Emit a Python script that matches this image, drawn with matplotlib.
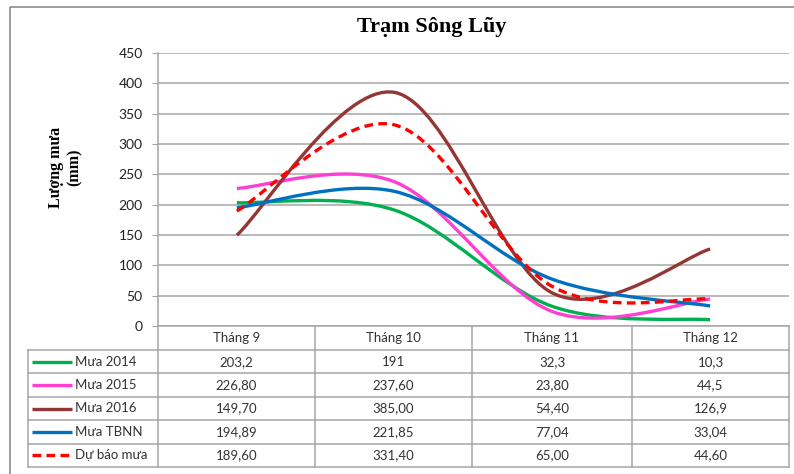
import numpy as np
import matplotlib
matplotlib.use('Agg')
import matplotlib.pyplot as plt
from matplotlib.path import Path
from matplotlib.patches import PathPatch, Rectangle

# ---------------- datos ----------------
thang = ['Tháng 9', 'Tháng 10', 'Tháng 11', 'Tháng 12']

mua_2014 = [203.2, 191, 32.3, 10.3]
mua_2015 = [226.80, 237.60, 23.80, 44.5]
mua_2016 = [149.70, 385.00, 54.40, 126.9]
mua_tbnn = [194.89, 221.85, 77.04, 33.04]
du_bao = [189.60, 331.40, 65.00, 44.60]

nhan_2014 = ['203,2', '191', '32,3', '10,3']
nhan_2015 = ['226,80', '237,60', '23,80', '44,5']
nhan_2016 = ['149,70', '385,00', '54,40', '126,9']
nhan_tbnn = ['194,89', '221,85', '77,04', '33,04']
nhan_du_bao = ['189,60', '331,40', '65,00', '44,60']

ten_chuoi = ['Mưa 2014', 'Mưa 2015', 'Mưa 2016', 'Mưa TBNN', 'Dự báo mưa']
y_ticks = [0, 50, 100, 150, 200, 250, 300, 350, 400, 450]

series = [mua_2014, mua_2015, mua_2016, mua_tbnn, du_bao]
nhans = [nhan_2014, nhan_2015, nhan_2016, nhan_tbnn, nhan_du_bao]
colores = ['#00B050', '#FF3FD2', '#943634', '#0070C0', '#FF0000']
estilos = ['-', '-', '-', '-', (0, (2.6, 1.6))]

sans = ['Lato', 'DejaVu Sans']
serif = ['Liberation Serif', 'DejaVu Serif']
gris = '#A6A6A6'

W, H = 794, 474
fig = plt.figure(figsize=(W / 100, H / 100), dpi=100)

# area del grafico en pixeles
x0, x1 = 158, 789
y_top, y_bot = 53, 326


def fx(px):
    return px / W


def fy(py):
    return 1 - py / H


ax = fig.add_axes([fx(x0), fy(y_bot), fx(x1) - fx(x0), fy(y_top) - fy(y_bot)])


# curva suavizada estilo Excel (Bezier tipo Catmull-Rom)
def curva(xs, ys):
    pts = np.column_stack([xs, ys]).astype(float)
    n = len(pts)
    verts = [pts[0]]
    codes = [Path.MOVETO]
    for i in range(n - 1):
        p_prev = pts[i - 1] if i > 0 else pts[i]
        p_next2 = pts[i + 2] if i + 2 < n else pts[i + 1]
        c1 = pts[i] + (pts[i + 1] - p_prev) / 6
        c2 = pts[i + 1] - (p_next2 - pts[i]) / 6
        verts += [c1, c2, pts[i + 1]]
        codes += [Path.CURVE4] * 3
    return Path(verts, codes)


x = np.arange(len(thang))
for ys, col, ls in zip(series, colores, estilos):
    patch = PathPatch(curva(x, ys), fill=False, edgecolor=col, lw=2.4,
                      linestyle=ls, capstyle='butt', zorder=3)
    ax.add_patch(patch)

ax.set_xlim(-0.5, len(thang) - 0.5)
ax.set_ylim(0, 450)
ax.set_yticks(y_ticks)
ax.set_yticklabels([str(v) for v in y_ticks], fontsize=10, family=sans, color='#222222')
ax.set_xticks([])
ax.tick_params(axis='y', length=4, color=gris, pad=7)
ax.grid(axis='y', color=gris, lw=1.1)
ax.set_axisbelow(True)
for s in ['top', 'right']:
    ax.spines[s].set_visible(False)
ax.spines['left'].set_color(gris)
ax.spines['bottom'].set_color(gris)
ax.spines['left'].set_linewidth(1.1)
ax.spines['bottom'].set_linewidth(1.1)

# capa en pixeles para la tabla y los textos
ov = fig.add_axes([0, 0, 1, 1], zorder=-1)
ov.set_xlim(0, W)
ov.set_ylim(H, 0)
ov.axis('off')

# marco exterior
ov.add_patch(Rectangle((10, 7), W, H, fill=False, edgecolor='#8C8C8C', lw=1.2))

# titulo y etiqueta del eje y
ov.text(432, 27, 'Trạm Sông Lũy', ha='center', va='center', fontsize=16,
        fontweight='bold', family=serif)
ov.text(65, 167, 'Lượng mưa\n(mm)', ha='center', va='center', fontsize=11.5,
        fontweight='bold', family=serif, rotation=90, linespacing=1.25)

# tabla de datos
cols = [158, 315, 472, 632, 789]
filas = [326, 350, 373.4, 396.8, 420.2, 443.6, 467]
leg_x = 28

for cx in cols:
    ov.plot([cx, cx], [filas[0], filas[-1]], color=gris, lw=1.1)
ov.plot([leg_x, leg_x], [filas[1], filas[-1]], color=gris, lw=1.1)
ov.plot([leg_x, cols[-1]], [filas[1], filas[1]], color=gris, lw=1.1)
for fy_ in filas[2:]:
    ov.plot([leg_x, cols[-1]], [fy_, fy_], color=gris, lw=1.1)

for j, t in enumerate(thang):
    ov.text((cols[j] + cols[j + 1]) / 2, (filas[0] + filas[1]) / 2, t,
            ha='center', va='center', fontsize=9.5, family=sans, color='#333333')

for i, (nombre, col, ls, nh) in enumerate(zip(ten_chuoi, colores, estilos, nhans)):
    yc = (filas[i + 1] + filas[i + 2]) / 2
    ov.plot([32, 72], [yc, yc], color=col, lw=2.4, linestyle=ls, solid_capstyle='butt',
            dash_capstyle='butt')
    ov.text(75, yc, nombre, ha='left', va='center', fontsize=9.5, family=sans,
            color='#333333')
    for j, v in enumerate(nh):
        ov.text((cols[j] + cols[j + 1]) / 2, yc, v, ha='center', va='center',
                fontsize=9.5, family=sans, color='#333333')

fig.savefig('out.png', dpi=100)
